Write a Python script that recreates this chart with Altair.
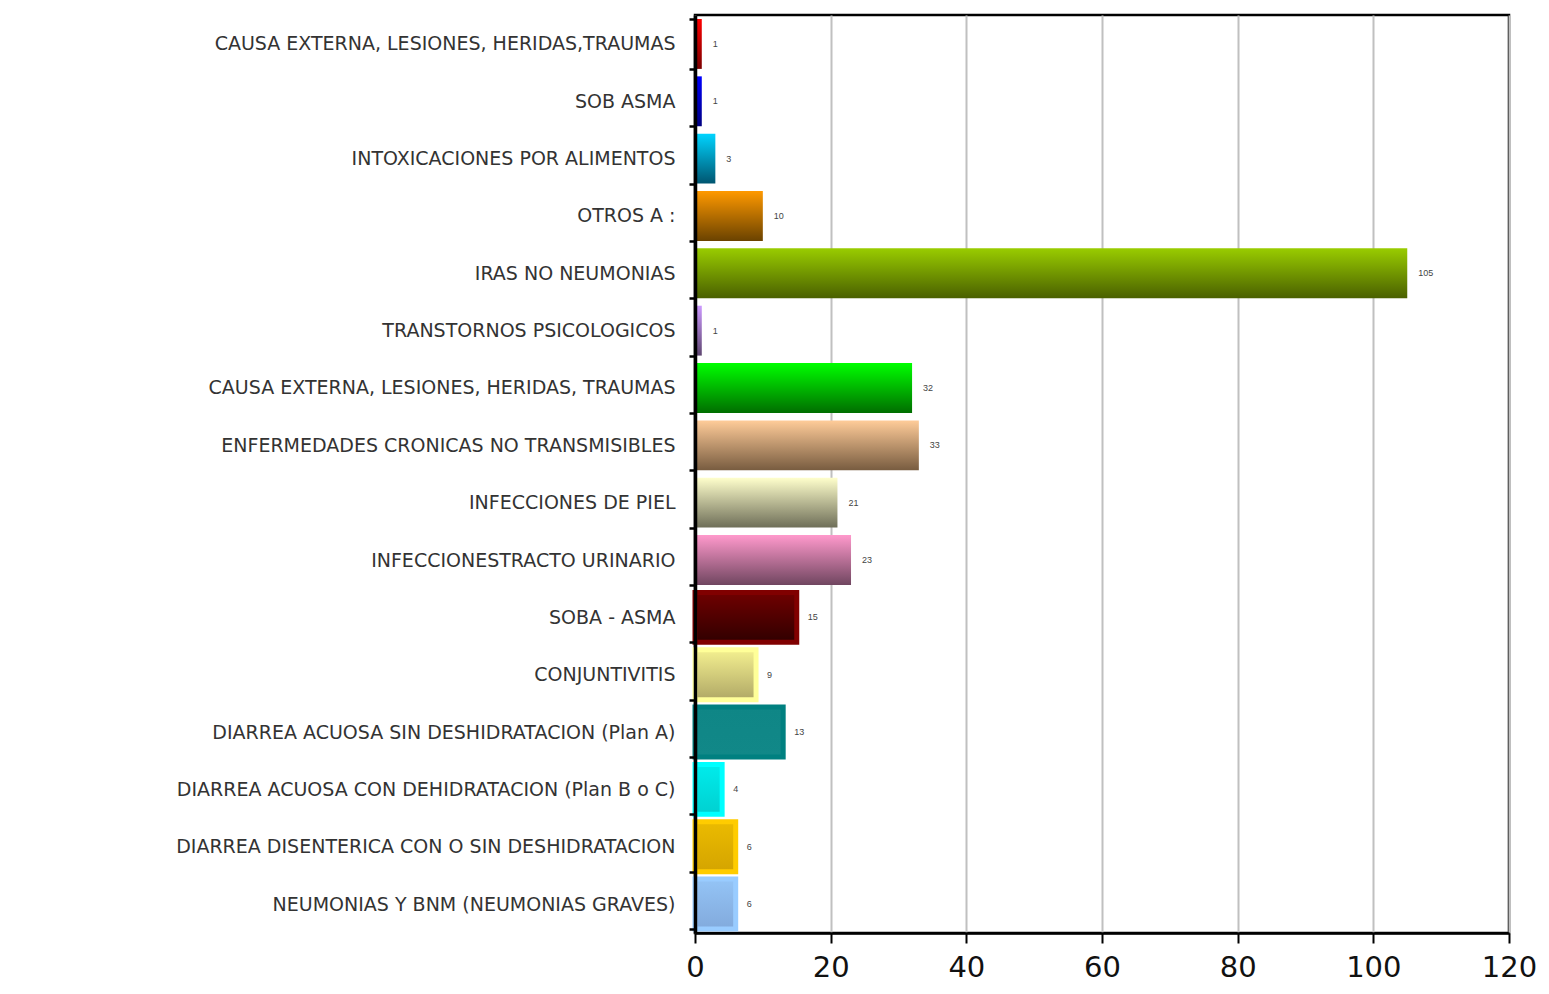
import altair as alt
import pandas as pd

categories = [
    "CAUSA EXTERNA, LESIONES, HERIDAS,TRAUMAS",
    "SOB ASMA",
    "INTOXICACIONES POR ALIMENTOS",
    "OTROS A :",
    "IRAS NO NEUMONIAS",
    "TRANSTORNOS PSICOLOGICOS",
    "CAUSA EXTERNA, LESIONES, HERIDAS, TRAUMAS",
    "ENFERMEDADES CRONICAS NO TRANSMISIBLES",
    "INFECCIONES DE PIEL",
    "INFECCIONESTRACTO URINARIO",
    "SOBA - ASMA",
    "CONJUNTIVITIS",
    "DIARREA ACUOSA SIN DESHIDRATACION (Plan A)",
    "DIARREA ACUOSA CON DEHIDRATACION (Plan B o C)",
    "DIARREA DISENTERICA CON O SIN DESHIDRATACION",
    "NEUMONIAS Y BNM  (NEUMONIAS GRAVES)",
]
values = [1, 1, 3, 10, 105, 1, 32, 33, 21, 23, 15, 9, 13, 4, 6, 6]

# gradient fill (top -> bottom) and optional outer border colour
top_colors = ["#ff0000", "#0000ff", "#00d4ff", "#ff9900", "#99cc00", "#cc99ff",
              "#00ff00", "#ffcc99", "#ffffcc", "#ff99cc", "#700000", "#f4f090",
              "#0f8686", "#00ecec", "#ebbb00", "#94c4f6"]
bottom_colors = ["#7a0000", "#000080", "#005570", "#6a4200", "#4a6000", "#5e4670",
                 "#006e00", "#785c40", "#6e6e58", "#704660", "#300000", "#b0a866",
                 "#118888", "#00d0d0", "#d4a400", "#82aadc"]
border_colors = [None] * 10 + ["#800000", "#ffff99", "#008080", "#00ffff",
                               "#ffcc00", "#99ccff"]

df = pd.DataFrame({"cat": categories, "val": values, "idx": list(range(len(values)))})

y_enc = alt.Y(
    "cat:N", sort=categories, title=None,
    scale=alt.Scale(paddingInner=0.13, paddingOuter=0.07),
)
x_enc = alt.X(
    "val:Q", title=None,
    scale=alt.Scale(domain=[0, 120], nice=False, zero=True),
)

layers = []
for i in range(len(values)):
    grad = alt.Gradient(
        gradient="linear",
        stops=[alt.GradientStop(color=top_colors[i], offset=0),
               alt.GradientStop(color=bottom_colors[i], offset=1)],
        x1=0, x2=0, y1=0, y2=1,
    )
    if i == 0:
        xe = alt.X("val:Q", title=None,
                   scale=alt.Scale(domain=[0, 120], nice=False, zero=True),
                   axis=alt.Axis(values=[0, 20, 40, 60, 80, 100, 120], grid=True,
                                 gridColor="#c0c0c0", gridWidth=2,
                                 domainColor="#000", domainWidth=2.5,
                                 tickColor="#000", tickWidth=2, tickSize=10,
                                 labelFontSize=29, labelFont="DejaVu Sans",
                                 labelColor="#111", labelPadding=10,
                                 labelFlush=False))
        ye = alt.Y("cat:N", sort=categories, title=None,
                   scale=alt.Scale(paddingInner=0.13, paddingOuter=0.07),
                   axis=alt.Axis(tickBand="extent", domainColor="#000", domainWidth=3.5,
                                 tickColor="#000", tickWidth=2.5, tickSize=6,
                                 labelFontSize=19, labelFont="DejaVu Sans",
                                 labelColor="#333", labelPadding=14, labelLimit=700,
                                 grid=False, zindex=1))
    else:
        xe = x_enc
        ye = y_enc
    if border_colors[i]:
        mark = alt.Chart(df).mark_bar(color=grad, stroke=border_colors[i],
                                      strokeWidth=5, strokeJoin="miter")
    else:
        mark = alt.Chart(df).mark_bar(color=grad)
    layers.append(
        mark.transform_filter(alt.datum.idx == i).encode(x=xe, y=ye)
    )

labels = alt.Chart(df).mark_text(
    align="left", baseline="middle", dx=11, fontSize=9,
    font="Liberation Sans", color="#444",
).encode(x=x_enc, y=y_enc, text=alt.Text("val:Q"))

chart = alt.layer(*layers, labels).properties(
    width=814, height=918,
    autosize=alt.AutoSizeParams(type="none"),
    padding={"left": 687, "top": 7, "right": 32, "bottom": 53},
).configure_view(stroke="#000", strokeWidth=2.5)

chart.save("out.html", embed_options={"renderer": "svg", "actions": False})
